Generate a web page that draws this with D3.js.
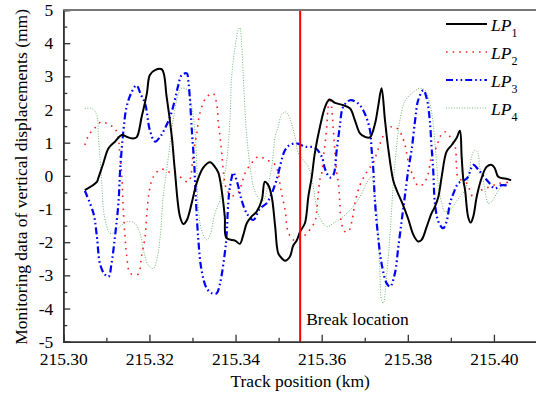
<!DOCTYPE html>
<html>
<head>
<meta charset="utf-8">
<script src="https://cdn.jsdelivr.net/npm/d3@7/dist/d3.min.js"></script>
<style>
  body { margin: 0; background: #fff; }
  svg { display: block; }
  svg text { font-family: "Liberation Serif", "Times New Roman", "DejaVu Serif", serif; }
</style>
</head>
<body>
<svg id="chart" width="536" height="394"></svg>
<script>
// track position (km) and vertical displacement (mm) for each monitoring line
var lp1Km = [215.3050,215.3078,215.3081,215.3093,215.3105,215.3120,215.3136,215.3147,215.3159,215.3170,
  215.3182,215.3194,215.3201,215.3213,215.3229,215.3240,215.3252,215.3259,215.3271,215.3279,
  215.3287,215.3298,215.3310,215.3325,215.3341,215.3352,215.3360,215.3368,215.3375,215.3379,
  215.3399,215.3410,215.3418,215.3426,215.3437,215.3449,215.3461,215.3468,215.3476,215.3484,
  215.3492,215.3499,215.3507,215.3515,215.3526,215.3534,215.3542,215.3550,215.3561,215.3565,
  215.3569,215.3577,215.3584,215.3596,215.3608,215.3618,215.3631,215.3650,215.3666,215.3677,
  215.3689,215.3700,215.3712,215.3724,215.3731,215.3739,215.3747,215.3755,215.3766,215.3774,
  215.3789,215.3801,215.3813,215.3824,215.3832,215.3844,215.3855,215.3863,215.3871,215.3879,
  215.3890,215.3902,215.3913,215.3921,215.3925,215.3929,215.3933,215.3940,215.3946,215.3952,
  215.3960,215.3971,215.3983,215.3995,215.4002,215.4010,215.4026,215.4040];
var lp1Val = [-0.43,-0.18,-0.08,0.38,0.83,1.03,1.23,1.18,1.13,1.16,
  1.78,2.48,3.04,3.19,3.21,2.38,1.18,0.17,-1.23,-1.45,
  -1.33,-0.83,-0.20,0.25,0.41,0.27,0.10,-0.45,-1.23,-1.88,
  -1.95,-2.05,-1.78,-1.43,-1.23,-1.08,-0.73,-0.18,-0.28,-0.63,
  -1.53,-2.33,-2.48,-2.56,-2.44,-2.10,-1.95,-1.68,-1.43,-1.13,
  -0.63,-0.03,0.68,1.48,2.08,2.30,2.20,2.13,2.03,1.68,
  1.28,1.18,1.16,1.58,2.08,2.64,1.68,0.78,-0.13,-0.43,
  -0.88,-1.30,-1.78,-1.98,-1.93,-1.53,-1.13,-0.93,-0.63,0.00,
  0.73,0.93,1.13,1.36,0.58,-0.13,-0.43,-1.23,-1.41,-1.23,
  -0.63,-0.08,0.27,0.33,0.23,-0.03,-0.08,-0.13];

var lp2Km = [215.3050,215.3058,215.3072,215.3089,215.3107,215.3120,215.3128,215.3130,215.3136,215.3139,
  215.3143,215.3147,215.3155,215.3164,215.3174,215.3182,215.3190,215.3194,215.3200,215.3209,
  215.3227,215.3248,215.3263,215.3290,215.3302,215.3310,215.3317,215.3333,215.3348,215.3356,
  215.3360,215.3364,215.3368,215.3372,215.3379,215.3392,215.3406,215.3415,215.3422,215.3437,
  215.3453,215.3472,215.3492,215.3499,215.3503,215.3507,215.3515,215.3522,215.3534,215.3550,
  215.3569,215.3584,215.3588,215.3592,215.3596,215.3600,215.3604,215.3608,215.3612,215.3615,
  215.3619,215.3623,215.3627,215.3631,215.3635,215.3639,215.3642,215.3646,215.3654,215.3662,
  215.3670,215.3677,215.3689,215.3704,215.3720,215.3731,215.3747,215.3762,215.3778,215.3793,
  215.3801,215.3813,215.3824,215.3836,215.3847,215.3855,215.3867,215.3875,215.3886,215.3898,
  215.3910,215.3913,215.3917,215.3937,215.3952,215.3971,215.3991,215.4010,215.4033];
var lp2Val = [0.93,1.20,1.43,1.63,1.53,1.43,1.13,0.85,-0.03,-0.93,
  -1.78,-2.39,-2.94,-2.96,-2.96,-2.39,-1.83,-1.13,-0.43,-0.03,
  0.20,0.10,0.05,-0.18,0.73,1.28,1.88,2.38,2.48,2.18,
  1.58,1.18,0.68,0.10,-0.40,-0.60,-0.50,-0.20,0.08,0.38,
  0.58,0.48,0.33,0.08,-0.23,-0.53,-1.03,-1.68,-1.93,-1.90,
  -1.68,-1.38,-1.10,-0.53,-0.10,0.08,0.58,0.98,1.53,2.08,
  2.36,2.08,1.40,0.68,0.10,-0.23,-0.78,-1.43,-1.68,-1.68,
  -1.38,-0.83,-0.28,0.10,0.40,0.80,1.30,1.48,1.40,0.95,
  0.43,-0.03,-0.30,-0.25,0.05,0.58,0.88,1.18,1.33,1.18,
  0.88,0.33,-0.05,-0.23,-0.63,-0.43,-0.33,-0.23,-0.20];

var lp3Km = [215.3050,215.3070,215.3078,215.3085,215.3095,215.3105,215.3112,215.3120,215.3128,215.3132,
  215.3139,215.3147,215.3159,215.3170,215.3180,215.3190,215.3201,215.3213,215.3225,215.3236,
  215.3248,215.3259,215.3267,215.3275,215.3287,215.3290,215.3294,215.3297,215.3300,215.3304,
  215.3306,215.3313,215.3321,215.3333,215.3345,215.3356,215.3364,215.3375,215.3379,215.3383,
  215.3387,215.3395,215.3399,215.3406,215.3414,215.3426,215.3441,215.3457,215.3472,215.3484,
  215.3495,215.3515,215.3526,215.3542,215.3561,215.3584,215.3600,215.3608,215.3619,215.3627,
  215.3635,215.3642,215.3650,215.3666,215.3685,215.3700,215.3712,215.3716,215.3720,215.3724,
  215.3731,215.3739,215.3751,215.3759,215.3770,215.3778,215.3786,215.3793,215.3801,215.3809,
  215.3817,215.3824,215.3836,215.3844,215.3851,215.3855,215.3859,215.3863,215.3871,215.3882,
  215.3890,215.3898,215.3906,215.3917,215.3937,215.3952,215.3963,215.3975,215.3987,215.4002,
  215.4018,215.4035];
var lp3Val = [-0.45,-1.13,-1.83,-2.64,-2.95,-3.04,-2.64,-1.83,-0.83,0.17,
  1.28,2.08,2.53,2.73,2.45,2.18,1.38,1.03,1.18,1.43,
  1.78,2.28,2.73,3.04,3.09,2.89,2.33,1.68,1.08,0.38,
  -0.20,-1.83,-2.84,-3.39,-3.54,-3.54,-3.24,-2.33,-1.83,-0.83,
  -0.33,0.10,0.00,-0.30,-0.73,-1.13,-1.33,-0.98,-0.83,-0.53,
  -0.13,0.78,0.93,0.98,0.88,0.85,0.58,0.20,-0.05,0.02,
  0.78,1.48,2.08,2.28,2.18,1.88,1.38,0.78,0.17,-0.83,
  -1.83,-2.64,-3.24,-3.34,-2.94,-2.14,-1.33,-0.63,0.17,0.80,
  1.68,2.28,2.58,2.33,1.68,0.90,0.17,-0.83,-1.38,-1.58,
  -1.38,-0.83,-0.53,-0.23,-0.08,0.33,0.20,0.00,-0.18,-0.38,
  -0.28,-0.30];

var lp4Km = [215.3050,215.3066,215.3078,215.3081,215.3085,215.3089,215.3093,215.3101,215.3108,215.3120,
  215.3136,215.3151,215.3166,215.3178,215.3186,215.3197,215.3209,215.3217,215.3225,215.3232,
  215.3240,215.3248,215.3255,215.3267,215.3275,215.3287,215.3298,215.3306,215.3310,215.3313,
  215.3321,215.3333,215.3341,215.3352,215.3364,215.3372,215.3379,215.3387,215.3391,215.3399,
  215.3406,215.3410,215.3414,215.3418,215.3422,215.3426,215.3434,215.3441,215.3452,215.3464,
  215.3475,215.3484,215.3492,215.3499,215.3507,215.3515,215.3522,215.3530,215.3538,215.3546,
  215.3557,215.3569,215.3580,215.3588,215.3596,215.3612,215.3627,215.3650,215.3673,215.3689,
  215.3704,215.3716,215.3721,215.3728,215.3731,215.3735,215.3739,215.3743,215.3751,215.3759,
  215.3766,215.3774,215.3782,215.3793,215.3809,215.3828,215.3840,215.3851,215.3859,215.3863,
  215.3867,215.3871,215.3879,215.3886,215.3898,215.3910,215.3921,215.3933,215.3940,215.3944,
  215.3948,215.3956,215.3963,215.3967,215.3975,215.3979,215.3987,215.3995,215.4002,215.4014,
  215.4026,215.4037];
var lp4Val = [2.03,2.03,1.83,1.28,0.58,-0.13,-1.00,-1.53,-1.73,-1.70,
  -1.48,-1.38,-1.43,-1.73,-2.23,-2.69,-2.79,-2.54,-1.83,-0.63,
  0.17,0.98,1.68,2.45,2.64,2.60,2.10,1.30,0.30,-0.90,
  -1.63,-1.93,-1.78,-1.13,-0.73,-0.13,0.38,1.68,2.98,3.89,
  4.39,4.47,3.99,2.98,1.98,1.18,0.27,-0.30,-0.65,-0.75,
  -0.30,0.27,1.18,1.48,1.85,1.93,1.85,1.58,1.18,0.68,
  0.48,0.27,-0.30,-0.93,-1.28,-1.53,-1.43,-1.23,-0.93,-0.63,
  -0.23,-0.03,-0.40,-1.03,-1.83,-2.84,-3.74,-3.84,-3.00,-1.70,
  -0.30,0.90,1.70,2.25,2.48,2.64,2.58,2.18,1.58,0.98,
  0.38,-0.30,-0.83,-1.08,-1.03,-0.83,-0.63,-0.43,-0.13,0.17,
  0.58,0.78,0.68,0.27,-0.13,-0.43,-0.83,-0.78,-0.63,-0.38,
  -0.23,-0.13];

var seriesNames = ["1", "2", "3", "4"];
var xMajorTicks = [215.30, 215.32, 215.34, 215.36, 215.38, 215.40];
var xMinorTicks = [215.31, 215.33, 215.35, 215.37, 215.39];
var yMajorTicks = [-5, -4, -3, -2, -1, 0, 1, 2, 3, 4, 5];
var yMinorTicks = [-4.5, -3.5, -2.5, -1.5, -0.5, 0.5, 1.5, 2.5, 3.5, 4.5];
var breakKm = 215.355;

var svg = d3.select("#chart");
var plotLeft = 63.3, plotRight = 537, plotTop = 10, plotBottom = 341.7;
var fontSize = 17.5;
var serif = "Liberation Serif";

var x = d3.scaleLinear().domain([215.30, 215.41]).range([plotLeft, plotRight]);
var y = d3.scaleLinear().domain([-5, 5]).range([plotBottom, plotTop]);

var styles = [
  {color: "#000000", width: 2.0, dash: null},
  {color: "#ff2020", width: 1.6, dash: "1.6,5"},
  {color: "#0000ff", width: 2.2, dash: "7,3,1.6,3,1.6,3"},
  {color: "#70b870", width: 1.0, dash: "1,1.6"}
];

var series = [
  d3.zip(lp1Km, lp1Val),
  d3.zip(lp2Km, lp2Val),
  d3.zip(lp3Km, lp3Val),
  d3.zip(lp4Km, lp4Val)
];

var line = d3.line()
  .x(function(d){ return x(d[0]); })
  .y(function(d){ return y(d[1]); })
  .curve(d3.curveCatmullRom.alpha(0.5));

// draw the lighter lines first so the solid one sits on top
var order = [3, 1, 2, 0];
order.forEach(function(i){
  svg.append("path")
    .attr("d", line(series[i]))
    .attr("fill", "none")
    .attr("stroke", styles[i].color)
    .attr("stroke-width", styles[i].width)
    .attr("stroke-dasharray", styles[i].dash)
    .attr("stroke-linejoin", "round");
});

// break position
svg.append("line")
  .attr("x1", x(breakKm)).attr("x2", x(breakKm))
  .attr("y1", plotTop).attr("y2", plotBottom)
  .attr("stroke", "#ff0000").attr("stroke-width", 2);
svg.append("text")
  .attr("x", x(breakKm) + 6).attr("y", 325)
  .attr("font-family", serif)
  .attr("font-size", fontSize)
  .text("Break location");

// axes
var xAxis = svg.append("g")
  .attr("transform", "translate(0," + plotBottom + ")")
  .call(d3.axisBottom(x).tickValues(xMajorTicks).tickSize(-7).tickPadding(11)
    .tickFormat(d3.format(".2f")));
var xMinor = svg.append("g")
  .attr("transform", "translate(0," + plotBottom + ")")
  .call(d3.axisBottom(x).tickValues(xMinorTicks).tickSize(-4).tickFormat(""));
var yAxis = svg.append("g")
  .attr("transform", "translate(" + plotLeft + ",0)")
  .call(d3.axisLeft(y).tickValues(yMajorTicks).tickSize(-7).tickPadding(10)
    .tickFormat(function(d){ return String(d); }));
var yMinor = svg.append("g")
  .attr("transform", "translate(" + plotLeft + ",0)")
  .call(d3.axisLeft(y).tickValues(yMinorTicks).tickSize(-4).tickFormat(""));

[xAxis, xMinor, yAxis, yMinor].forEach(function(g){
  g.attr("font-family", serif).attr("font-size", fontSize);
  g.selectAll("text").attr("fill", "#000");
  g.selectAll(".tick line").attr("stroke", "#333").attr("stroke-width", 1.3);
  g.select(".domain").attr("stroke", "#333").attr("stroke-width", 1.6);
});

// top frame line
svg.append("line")
  .attr("x1", plotLeft).attr("x2", plotRight)
  .attr("y1", plotTop).attr("y2", plotTop)
  .attr("stroke", "#777").attr("stroke-width", 2);

// axis titles
svg.append("text")
  .attr("x", (plotLeft + plotRight) / 2).attr("y", 387)
  .attr("text-anchor", "middle")
  .attr("font-family", serif)
  .attr("font-size", fontSize)
  .text("Track position (km)");
svg.append("text")
  .attr("transform", "translate(27," + ((plotTop + plotBottom) / 2 + 1) + ") rotate(-90)")
  .attr("text-anchor", "middle")
  .attr("font-family", serif)
  .attr("font-size", fontSize)
  .text("Monitoring data of vertical displacements (mm)");

// legend
var legend = svg.append("g");
seriesNames.forEach(function(name, i){
  var ly = 24 + i * 28;
  legend.append("line")
    .attr("x1", 446).attr("x2", 487)
    .attr("y1", ly).attr("y2", ly)
    .attr("stroke", styles[i].color)
    .attr("stroke-width", styles[i].width)
    .attr("stroke-dasharray", styles[i].dash);
  var t = legend.append("text")
    .attr("x", 491).attr("y", ly + 7)
    .attr("font-family", serif)
    .attr("font-size", fontSize);
  t.append("tspan").attr("font-style", "italic").text("LP");
  t.append("tspan").attr("dy", 6).attr("font-size", 12).text(name);
});
</script>
</body>
</html>
